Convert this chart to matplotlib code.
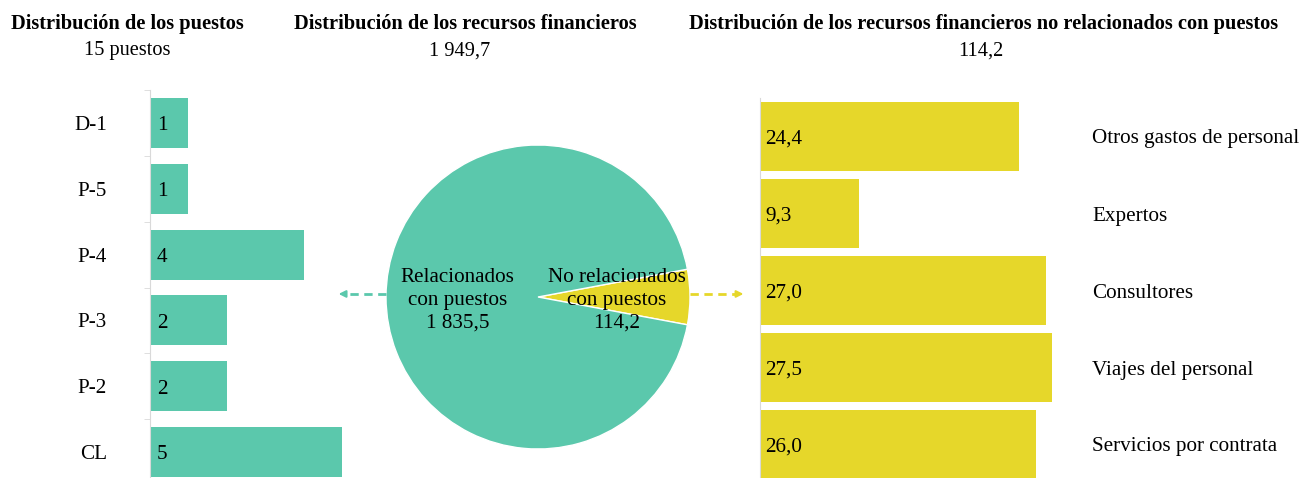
import numpy as np
import matplotlib.pyplot as plt

plt.rcParams['font.family'] = ['Liberation Serif', 'DejaVu Serif']

teal = '#5BC8AC'
yellow = '#E6D72A'
grey = '#d9d9d9'

# datos
grados = ['D-1', 'P-5', 'P-4', 'P-3', 'P-2', 'CL']
puestos = [1, 1, 4, 2, 2, 5]

pie_labels = ['No relacionados\ncon puestos\n114,2', 'Relacionados\ncon puestos\n1 835,5']
pie_vals = [114.2, 1835.5]

gastos = ['Otros gastos de personal', 'Expertos', 'Consultores',
          'Viajes del personal', 'Servicios por contrata']
montos = [24.4, 9.3, 27.0, 27.5, 26.0]
montos_txt = ['24,4', '9,3', '27,0', '27,5', '26,0']

W, H = 1302, 478
fs = 15.2
fs_t = 14.7
fig = plt.figure(figsize=(W / 100, H / 100), dpi=100)

def box(x0, y0, x1, y1):
    # pixel box (top-left origin) -> figure fraction
    return [x0 / W, (H - y1) / H, (x1 - x0) / W, (y1 - y0) / H]

# --- puestos ---
ax1 = fig.add_axes(box(150, 90, 342, 485))
y = np.arange(len(grados))
ax1.barh(y, puestos, height=0.76, color=teal)
ax1.set_xlim(0, 5)
ax1.set_ylim(len(grados) - 0.5, -0.5)
ax1.set_yticks(y)
ax1.set_yticklabels(grados, fontsize=fs)
ax1.set_yticks(np.arange(len(grados) + 1) - 0.5, minor=True)
ax1.tick_params(axis='y', which='major', length=0, pad=31)
ax1.tick_params(axis='y', which='minor', length=4, color=grey)
ax1.set_xticks([])
for s in ['top', 'right', 'bottom']:
    ax1.spines[s].set_visible(False)
ax1.spines['left'].set_color(grey)
for i, v in enumerate(puestos):
    ax1.annotate(str(v), (0, i), xytext=(5, -2), textcoords='offset points',
                 va='center', ha='left', fontsize=fs)

# --- pie ---
ax2 = fig.add_axes(box(538 - 152, 297 - 152, 538 + 152, 297 + 152))
ang = 360 * pie_vals[0] / sum(pie_vals)
ax2.pie(pie_vals, colors=[yellow, teal], startangle=-ang / 2, counterclock=True,
        radius=1, wedgeprops=dict(edgecolor='white', linewidth=1))
ax2.set_xlim(-1, 1)
ax2.set_ylim(-1, 1)
ax2.text(0.52, -0.02, pie_labels[0], ha='center', va='center', fontsize=fs, linespacing=1.28)
ax2.text(-0.53, -0.02, pie_labels[1], ha='center', va='center', fontsize=fs, linespacing=1.28)
# flechas
ya = 0.02
ax2.plot([-1.0, -1.27], [ya, ya], ls=(0, (3, 2)), color=teal, lw=2, clip_on=False)
ax2.annotate('', xy=(-1.33, ya), xytext=(-1.26, ya), annotation_clip=False,
             arrowprops=dict(arrowstyle='-|>', color=teal, lw=1.5, mutation_scale=10))
ax2.plot([1.0, 1.3], [ya, ya], ls=(0, (3, 2)), color=yellow, lw=2, clip_on=False)
ax2.annotate('', xy=(1.37, ya), xytext=(1.3, ya), annotation_clip=False,
             arrowprops=dict(arrowstyle='-|>', color=yellow, lw=1.5, mutation_scale=10))

# --- recursos no relacionados ---
ax3 = fig.add_axes(box(760, 98, 1080, 483))
y3 = np.arange(len(gastos))
ax3.barh(y3, montos, height=0.9, color=yellow)
ax3.set_xlim(0, 320 / 10.6)
ax3.set_ylim(len(gastos) - 0.5, -0.5)
ax3.yaxis.tick_right()
ax3.set_yticks(y3)
ax3.set_yticklabels(gastos, fontsize=fs)
ax3.tick_params(axis='y', length=0, pad=9)
ax3.set_xticks([])
for s in ['top', 'right', 'bottom']:
    ax3.spines[s].set_visible(False)
ax3.spines['left'].set_color(grey)
for i, t in enumerate(montos_txt):
    ax3.annotate(t, (0, i), xytext=(4, -2), textcoords='offset points',
                 va='center', ha='left', fontsize=fs)

# --- títulos ---
fig.text(127 / W, 1 - 24 / H, 'Distribución de los puestos', ha='center', va='center',
         fontsize=fs_t, fontweight='bold')
fig.text(127 / W, 1 - 51 / H, '15 puestos', ha='center', va='center', fontsize=fs_t)
fig.text(465 / W, 1 - 24 / H, 'Distribución de los recursos financieros', ha='center',
         va='center', fontsize=fs_t, fontweight='bold')
fig.text(460 / W, 1 - 51 / H, '1 949,7', ha='center', va='center', fontsize=fs_t)
fig.text(984 / W, 1 - 24 / H,
         'Distribución de los recursos financieros no relacionados con puestos',
         ha='center', va='center', fontsize=fs_t, fontweight='bold')
fig.text(981 / W, 1 - 51 / H, '114,2', ha='center', va='center', fontsize=fs_t)

fig.savefig('out.png', dpi=100)
